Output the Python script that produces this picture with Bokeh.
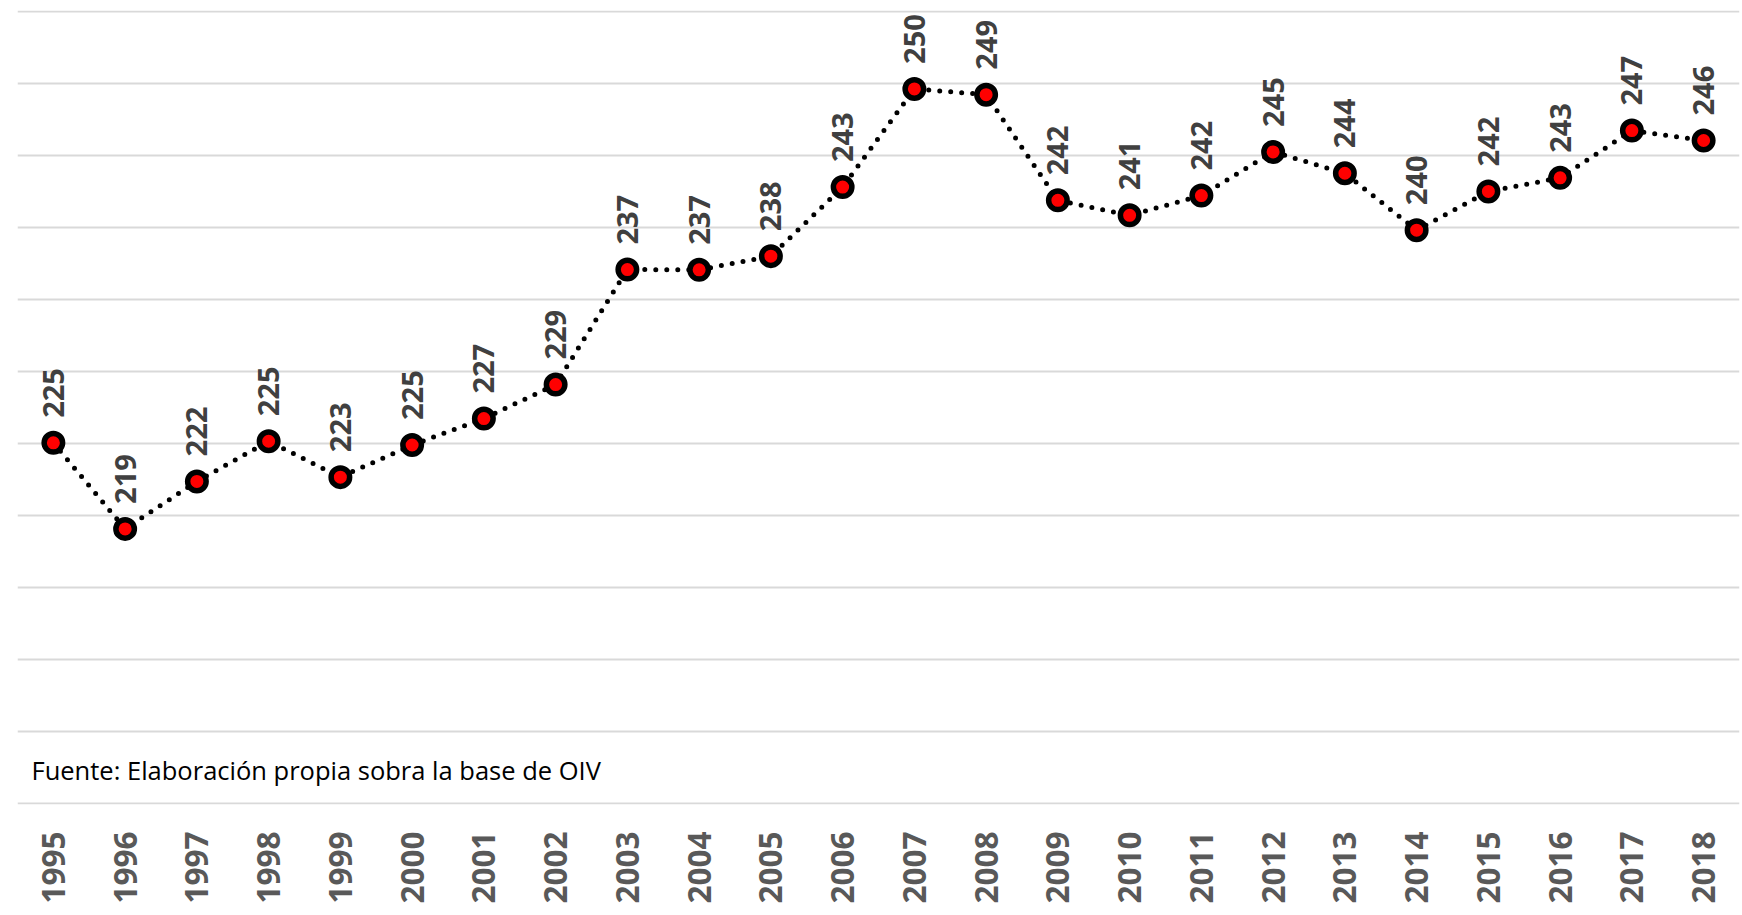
import math
from bokeh.plotting import figure
from bokeh.models import Range1d, FixedTicker, Label, ColumnDataSource
from bokeh.core.properties import value
from bokeh.embed import file_html
from bokeh.resources import INLINE

years = [str(y) for y in range(1995, 2019)]
values = [225.05, 219.08, 222.37, 225.16, 222.67, 224.9, 226.73, 229.09,
          237.07, 237.05, 238.0, 242.79, 249.6, 249.2, 241.87, 240.83,
          242.2, 245.23, 243.75, 239.8, 242.49, 243.43, 246.71, 246.02]
labels = ["225", "219", "222", "225", "223", "225", "227", "229",
          "237", "237", "238", "243", "250", "249", "242", "241",
          "242", "245", "244", "240", "242", "243", "247", "246"]
y_ticks = list(range(200, 256, 5))
source_note = "Fuente: Elaboración propia sobra la base de OIV"

src = ColumnDataSource(dict(x=years, y=values, t=labels))

p = figure(x_range=years, y_range=Range1d(199.96, 255.04),
           width=1740, height=912, output_backend="svg", toolbar_location=None,
           min_border_left=17, min_border_right=1, min_border_top=10, min_border_bottom=108)
p.outline_line_color = None
p.background_fill_color = "white"
p.border_fill_color = "white"

p.yaxis.visible = False
p.yaxis.ticker = FixedTicker(ticks=y_ticks)
p.ygrid.grid_line_color = "#D9D9D9"
p.ygrid.grid_line_width = 2
p.xgrid.grid_line_color = None

xa = p.xaxis[0]
xa.axis_line_color = None
xa.major_tick_line_color = None
xa.minor_tick_line_color = None
xa.major_label_orientation = math.pi / 2
xa.major_label_standoff = 21
xa.major_label_text_font = "Open Sans"
xa.major_label_text_font_style = "bold"
xa.major_label_text_font_size = "31.5px"
xa.major_label_text_color = "#595959"

p.line("x", "y", source=src, line_color="black", line_width=5,
       line_dash="0 11", line_cap="round")
p.scatter("x", "y", source=src, size=18.5, fill_color="#FF0000",
          line_color="black", line_width=5.5)

p.text("x", "y", text="t", source=src, angle=math.pi / 2,
       text_align="left", text_baseline="middle", y_offset=-25,
       text_font=value("Open Sans"), text_font_style="bold",
       text_font_size="29px", text_color="#404040")

note = Label(x=14, y=202.35, x_units="screen", y_units="data", text=source_note,
             text_font="Open Sans", text_font_size="25.5px", text_color="black",
             text_baseline="middle")
p.add_layout(note)

open("out.html", "w").write(file_html(p, INLINE))
